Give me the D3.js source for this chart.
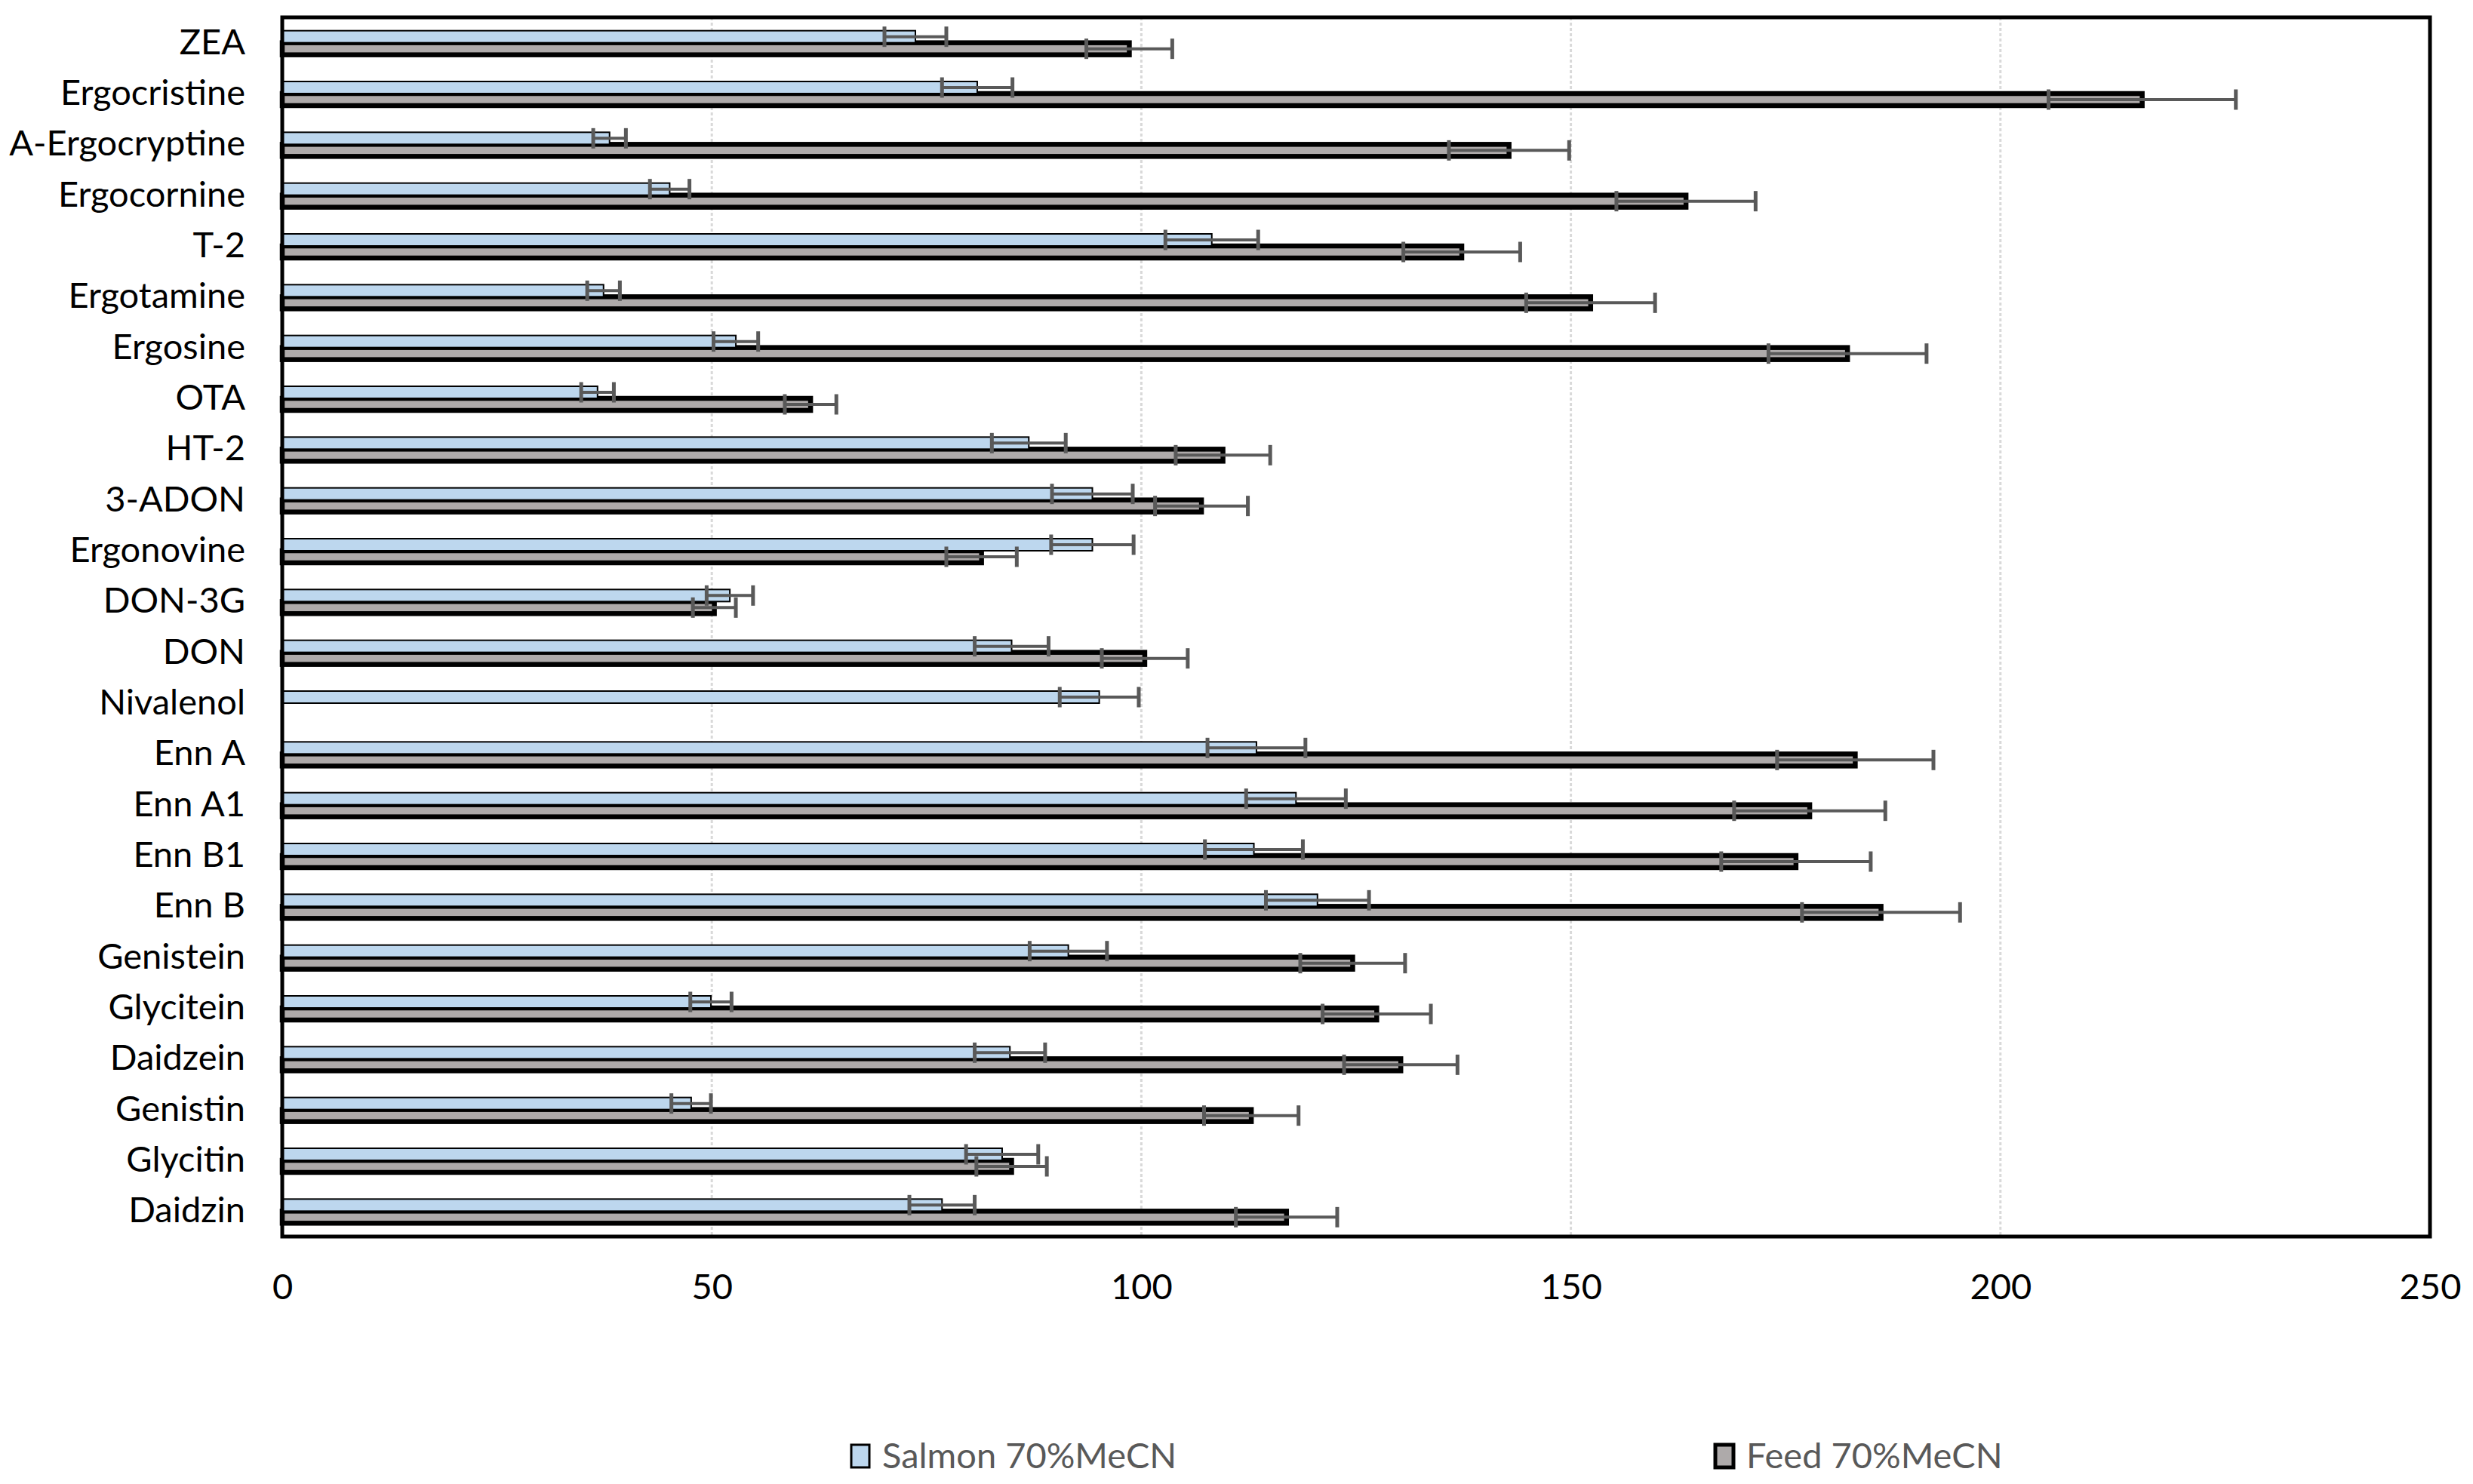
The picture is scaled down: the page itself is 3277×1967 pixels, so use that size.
<!DOCTYPE html>
<html lang="en">
<head>
  <meta charset="UTF-8">
  <title>Recovery, salmon vs feed</title>
  <style>
    body { margin: 0; background: #fff; }
    #chart { margin: 0; }
    svg { display: block; font-family: Lato, "Open Sans", sans-serif; }
  </style>
</head>
<body>
<figure id="chart"></figure>
<script src="https://cdn.jsdelivr.net/npm/d3@7"></script>
<script>
  // values
  var categories = ["ZEA", "Ergocristine", "A-Ergocryptine", "Ergocornine", "T-2", "Ergotamine",
    "Ergosine", "OTA", "HT-2", "3-ADON", "Ergonovine", "DON-3G", "DON", "Nivalenol",
    "Enn A", "Enn A1", "Enn B1", "Enn B", "Genistein", "Glycitein", "Daidzein",
    "Genistin", "Glycitin", "Daidzin"];
  var salmon    = [73.7, 80.9, 38.1, 45.1, 108.2, 37.4, 52.8, 36.7, 86.9, 94.3, 94.3, 52.1,
    84.9, 95.1, 113.4, 118.0, 113.1, 120.5, 91.5, 49.9, 84.7, 47.6, 83.8, 76.8];
  var salmonErr = [3.6, 4.1, 1.9, 2.3, 5.4, 1.9, 2.6, 1.9, 4.3, 4.7, 4.8, 2.7,
    4.3, 4.6, 5.7, 5.8, 5.7, 6.0, 4.5, 2.4, 4.1, 2.3, 4.2, 3.8];
  var feed      = [98.6, 216.5, 142.8, 163.4, 137.3, 152.3, 182.2, 61.5, 109.5, 107.0, 81.4, 50.3,
    100.4, null, 183.1, 177.8, 176.2, 186.1, 124.6, 127.4, 130.2, 112.8, 84.9, 116.9];
  var feedErr   = [5.0, 10.9, 7.0, 8.1, 6.8, 7.5, 9.2, 3.0, 5.5, 5.4, 4.1, 2.5,
    5.0, null, 9.1, 8.8, 8.7, 9.2, 6.1, 6.3, 6.6, 5.5, 4.1, 5.9];
  var seriesNames = ["Salmon 70%MeCN", "Feed 70%MeCN"];
  var xTicks = [0, 50, 100, 150, 200, 250];

  var width = 3277, height = 1967;
  var plot = {left: 374, right: 3220, top: 23, bottom: 1639};
  var fontSize = 47;

  var x = d3.scaleLinear().domain([0, 250]).range([plot.left, plot.right]);
  var y0 = d3.scaleBand().domain(categories).range([plot.top, plot.bottom])
    .paddingInner(0.525).paddingOuter(0.2625);
  var y1 = d3.scaleBand().domain(seriesNames).range([0, y0.bandwidth()]);

  var svg = d3.select("#chart").append("svg")
    .attr("width", width).attr("height", height);

  // gridlines
  svg.append("g").selectAll("line")
    .data(xTicks.slice(1, -1))
    .join("line")
    .attr("x1", d => x(d)).attr("x2", d => x(d))
    .attr("y1", plot.top).attr("y2", plot.bottom)
    .attr("stroke", "#d9d9d9").attr("stroke-width", 3)
    .attr("stroke-dasharray", "4,3");

  // rows as objects so the bars can be joined
  var rows = categories.map(function(c, i) {
    return {cat: c, salmon: salmon[i], salmonErr: salmonErr[i], feed: feed[i], feedErr: feedErr[i]};
  });
  var feedRows = rows.filter(d => d.feed != null);

  // feed is drawn first, salmon sits on top of its upper border (as Excel does)
  svg.append("g").selectAll("rect")
    .data(feedRows)
    .join("rect")
    .attr("x", x(0))
    .attr("y", d => y0(d.cat) + y1(seriesNames[1]))
    .attr("width", d => x(d.feed) - x(0))
    .attr("height", y1.bandwidth())
    .attr("fill", "#aeaaaa")
    .attr("stroke", "#000").attr("stroke-width", 6.5);

  svg.append("g").selectAll("rect")
    .data(rows)
    .join("rect")
    .attr("x", x(0))
    .attr("y", d => y0(d.cat) + y1(seriesNames[0]))
    .attr("width", d => x(d.salmon) - x(0))
    .attr("height", y1.bandwidth())
    .attr("fill", "#bdd7ee")
    .attr("stroke", "#000").attr("stroke-width", 2);

  // error bars
  function errorBars(data, key, errKey, name) {
    var g = svg.append("g").attr("stroke", "#595959");
    var cy = d => y0(d.cat) + y1(name) + y1.bandwidth() / 2;
    var capH = 13.5;
    g.selectAll("line.h").data(data).join("line").attr("class", "h")
      .attr("stroke-width", 4)
      .attr("x1", d => x(d[key] - d[errKey])).attr("x2", d => x(d[key] + d[errKey]))
      .attr("y1", cy).attr("y2", cy);
    g.selectAll("line.lo").data(data).join("line").attr("class", "lo")
      .attr("stroke-width", 5)
      .attr("x1", d => x(d[key] - d[errKey])).attr("x2", d => x(d[key] - d[errKey]))
      .attr("y1", d => cy(d) - capH).attr("y2", d => cy(d) + capH);
    g.selectAll("line.hi").data(data).join("line").attr("class", "hi")
      .attr("stroke-width", 5)
      .attr("x1", d => x(d[key] + d[errKey])).attr("x2", d => x(d[key] + d[errKey]))
      .attr("y1", d => cy(d) - capH).attr("y2", d => cy(d) + capH);
  }
  errorBars(feedRows, "feed", "feedErr", seriesNames[1]);
  errorBars(rows, "salmon", "salmonErr", seriesNames[0]);

  // frame
  svg.append("rect")
    .attr("x", plot.left).attr("y", plot.top)
    .attr("width", plot.right - plot.left).attr("height", plot.bottom - plot.top)
    .attr("fill", "none").attr("stroke", "#000").attr("stroke-width", 5);

  // axes
  var xAxis = svg.append("g")
    .attr("transform", "translate(0," + plot.bottom + ")")
    .call(d3.axisBottom(x).tickValues(xTicks).tickSize(0).tickPadding(50));
  var yAxis = svg.append("g")
    .attr("transform", "translate(" + plot.left + ",0)")
    .call(d3.axisLeft(y0).tickSize(0).tickPadding(49));
  [xAxis, yAxis].forEach(function(a) {
    a.select(".domain").remove();
    a.selectAll("text").attr("font-size", fontSize).attr("fill", "#000");
    a.attr("font-family", null);
  });

  // legend
  var legendX = [1128, 2273];
  var legend = svg.append("g").selectAll("g")
    .data(seriesNames)
    .join("g")
    .attr("transform", (d, i) => "translate(" + legendX[i] + ",1915)");
  legend.append("rect")
    .attr("width", 24).attr("height", 30)
    .attr("fill", (d, i) => i ? "#aeaaaa" : "#bdd7ee")
    .attr("stroke", "#000")
    .attr("stroke-width", (d, i) => i ? 5 : 3);
  legend.append("text")
    .attr("x", 41).attr("y", 15).attr("dy", "0.35em")
    .attr("font-size", fontSize).attr("fill", "#595959")
    .text(d => d);
</script>
</body>
</html>
